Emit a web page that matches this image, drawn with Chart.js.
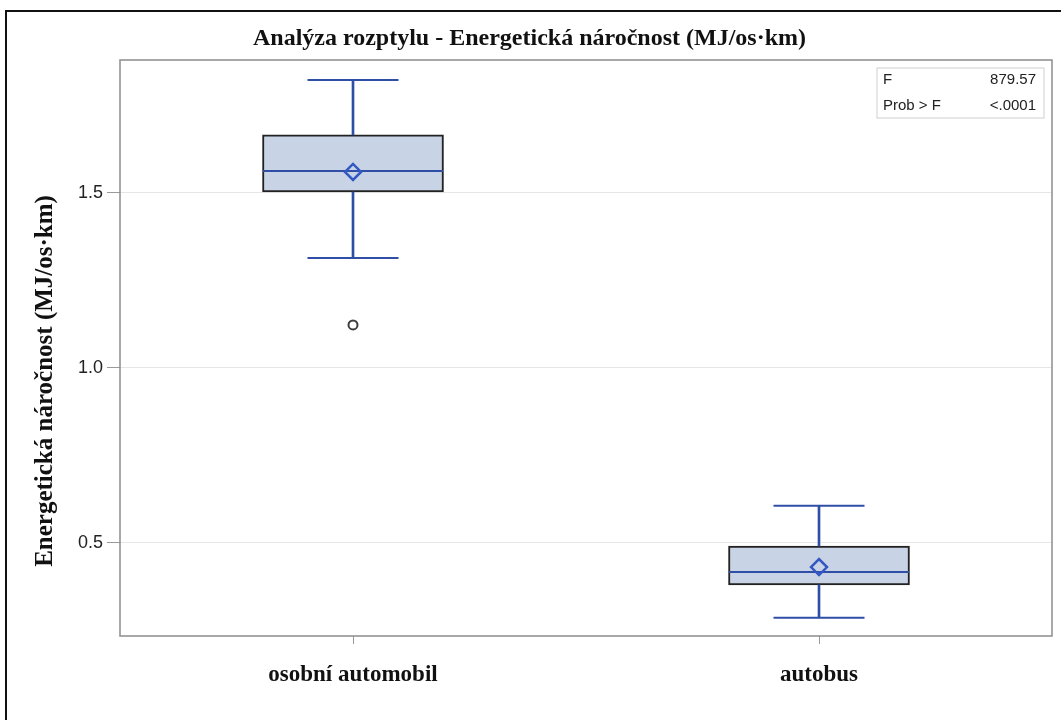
<!DOCTYPE html>
<html>
<head>
<meta charset="utf-8">
<script src="https://cdn.jsdelivr.net/npm/chart.js@4"></script>
<style>
  html, body { margin: 0; padding: 0; background: #fff; overflow: hidden; }
  #frame { position: absolute; left: 5px; top: 10px; width: 1070px; height: 730px; border: 2px solid #111; }
  #myChart { position: absolute; left: 0; top: 0; }
</style>
</head>
<body>
<div id="frame"><canvas id="myChart" width="1050" height="708"></canvas></div>
<script>
const categories = ['osobní automobil', 'autobus'];
const whiskerMin = [1.314, 0.286];
const q1 = [1.503, 0.380];
const median = [1.563, 0.417];
const q3 = [1.666, 0.491];
const whiskerMax = [1.823, 0.606];
const means = [1.560, 0.431];
const outliers = [1.123, null];
const yTicks = [0.5, 1.0, 1.5];
const statLabels = ['F', 'Prob > F'];
const statValues = ['879.57', '<.0001'];
const yTitle = 'Energetická náročnost (MJ/os·km)';

const blue = '#2f4fa6';
const serif = 'Liberation Serif, Times New Roman, serif';
const sans = 'Liberation Sans, Arial, sans-serif';

// plot frame, y axis title (sits lower than the axis centre) + F statistic inset
const extras = {
    id: 'extras',
    afterDraw(chart) {
        const c = chart.ctx;
        const a = chart.chartArea;
        c.save();
        c.strokeStyle = '#8c8c8c';
        c.lineWidth = 1.5;
        c.strokeRect(a.left, a.top, a.right - a.left, a.bottom - a.top);

        c.save();
        c.translate(39, a.top + (a.bottom - a.top) / 2 + 33);
        c.rotate(-Math.PI / 2);
        c.fillStyle = '#111';
        c.font = 'bold 25px ' + serif;
        c.textAlign = 'center';
        c.textBaseline = 'middle';
        c.fillText(yTitle, 0, 0);
        c.restore();

        const bx = a.right - 175, by = a.top + 8, bw = 167, bh = 50;
        c.strokeStyle = '#cfcfcf';
        c.lineWidth = 1;
        c.strokeRect(bx, by, bw, bh);
        c.fillStyle = '#222';
        c.font = '15px ' + sans;
        c.textBaseline = 'middle';
        statLabels.forEach((t, i) => {
            const y = by + 12 + i * 26;
            c.textAlign = 'left';
            c.fillText(t, bx + 6, y);
            c.textAlign = 'right';
            c.fillText(statValues[i], bx + bw - 8, y);
        });
        c.restore();
    }
};

let ctx = document.getElementById('myChart').getContext('2d');
let myChart = new Chart(ctx, {
    type: 'bar',
    data: {
        labels: categories,
        datasets: [
            {
                label: 'box',
                data: categories.map((c, i) => [q1[i], q3[i]]),
                backgroundColor: '#c8d4e6',
                borderColor: '#222',
                borderWidth: 2,
                borderSkipped: false,
                barThickness: 181,
                grouped: false,
                order: 5
            },
            {
                label: 'upper whisker',
                data: categories.map((c, i) => [q3[i], whiskerMax[i]]),
                backgroundColor: blue,
                borderWidth: 0,
                barThickness: 2,
                grouped: false,
                order: 4
            },
            {
                label: 'lower whisker',
                data: categories.map((c, i) => [whiskerMin[i], q1[i]]),
                backgroundColor: blue,
                borderWidth: 0,
                barThickness: 2,
                grouped: false,
                order: 4
            },
            {
                type: 'line',
                label: 'max',
                data: whiskerMax,
                showLine: false,
                pointStyle: 'line',
                pointRadius: 45.5,
                pointBorderColor: blue,
                pointBorderWidth: 2,
                order: 3
            },
            {
                type: 'line',
                label: 'min',
                data: whiskerMin,
                showLine: false,
                pointStyle: 'line',
                pointRadius: 45.5,
                pointBorderColor: blue,
                pointBorderWidth: 2,
                order: 3
            },
            {
                type: 'line',
                label: 'median',
                data: median,
                showLine: false,
                pointStyle: 'line',
                pointRadius: 90,
                pointBorderColor: blue,
                pointBorderWidth: 2,
                order: 2
            },
            {
                type: 'line',
                label: 'mean',
                data: means,
                showLine: false,
                pointStyle: 'rectRot',
                pointRadius: 8,
                pointBackgroundColor: 'rgba(0,0,0,0)',
                pointBorderColor: '#3358c4',
                pointBorderWidth: 2.5,
                order: 1
            },
            {
                type: 'line',
                label: 'outlier',
                data: outliers,
                showLine: false,
                pointStyle: 'circle',
                pointRadius: 4.5,
                pointBackgroundColor: '#fff',
                pointBorderColor: '#3c3c3c',
                pointBorderWidth: 2,
                order: 1
            }
        ]
    },
    options: {
        responsive: false,
        animation: false,
        events: [],
        layout: { autoPadding: false, padding: { left: 0, right: 5, top: 0, bottom: 0 } },
        plugins: {
            legend: { display: false },
            tooltip: { enabled: false },
            title: {
                display: true,
                text: 'Analýza rozptylu - Energetická náročnost (MJ/os·km)',
                color: '#111',
                font: { family: serif, size: 24, weight: 'bold' },
                padding: { top: 12, bottom: 7.2 }
            }
        },
        scales: {
            x: {
                offset: true,
                grid: { display: true, drawOnChartArea: false, offset: false, tickLength: 8, tickColor: '#999' },
                border: { display: false },
                ticks: { color: '#111', padding: 17, font: { family: serif, size: 23, weight: 'bold' } },
                afterFit(scale) { scale.height = 84; }
            },
            y: {
                min: 0.234,
                max: 1.88,
                afterBuildTicks(scale) { scale.ticks = yTicks.map(v => ({ value: v })); },
                grid: { color: '#e6e6e6', tickColor: '#999', tickLength: 13, lineWidth: 1 },
                border: { display: false },
                ticks: {
                    color: '#222',
                    padding: 4,
                    font: { family: sans, size: 18 },
                    callback: v => Number(v).toFixed(1)
                },
                afterFit(scale) { scale.width = 113; }
            }
        }
    },
    plugins: [extras]
});
</script>
</body>
</html>
